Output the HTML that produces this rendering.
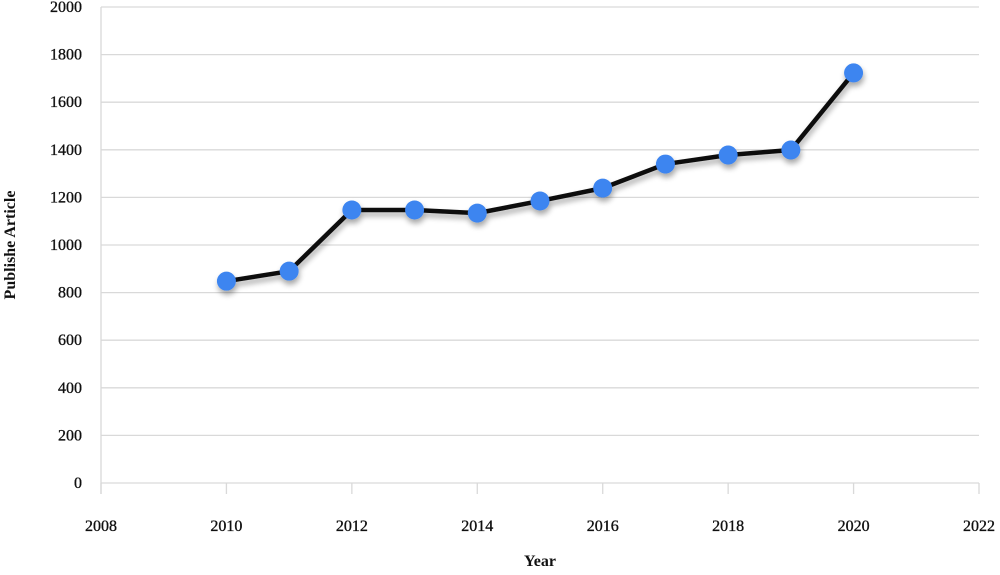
<!DOCTYPE html>
<html><head><meta charset="utf-8"><style>
body{margin:0;background:#fff}
svg text{font-family:"Liberation Serif",serif;font-size:16px;fill:#111}
.tl{stroke:#111;stroke-width:0.35px}
</style></head><body>
<svg id="chart" width="1000" height="570" xmlns="http://www.w3.org/2000/svg">
<defs><filter id="sh" x="-20%" y="-20%" width="140%" height="160%"><feGaussianBlur in="SourceAlpha" stdDeviation="3"/><feOffset dx="1" dy="4"/><feComponentTransfer><feFuncA type="linear" slope="0.35"/></feComponentTransfer><feMerge><feMergeNode/><feMergeNode in="SourceGraphic"/></feMerge></filter></defs>
<g id="grid"></g><g id="axes"></g><g id="series" filter="url(#sh)"></g>
<text x="540" y="566" text-anchor="middle" font-weight="bold" style="font-size:16px">Year</text>
<text transform="translate(15,245) rotate(-90)" text-anchor="middle" font-weight="bold" style="font-size:16px">Publishe Article</text>
</svg>
<script>
const years=[2010,2011,2012,2013,2014,2015,2016,2017,2018,2019,2020];
const articles=[848,890,1147,1147,1134,1185,1239,1340,1378,1399,1723];
const xTicks=[2008,2010,2012,2014,2016,2018,2020,2022];
const yTicks=[0,200,400,600,800,1000,1200,1400,1600,1800,2000];
const NS="http://www.w3.org/2000/svg";
const x=v=>101+(v-2008)*(979-101)/14;
const y=v=>483-v*(483-7)/2000;
function mk(t,a,p){const e=document.createElementNS(NS,t);for(const k in a)e.setAttribute(k,a[k]);p.appendChild(e);return e;}
const grid=document.getElementById('grid'),axes=document.getElementById('axes'),ser=document.getElementById('series');
yTicks.forEach(v=>{
 const l=mk('line',{x1:101,x2:979,y1:y(v),y2:y(v),stroke:'#d9d9d9','stroke-width':1.3},grid);
 
 
 const t=mk('text',{x:82,y:y(v)+5,'text-anchor':'end','class':'tl'},axes);t.textContent=v;
 
 
});
const ax=mk('line',{x1:101,x2:101,y1:7,y2:494,stroke:'#d9d9d9','stroke-width':1.3},axes);


xTicks.forEach(v=>{
 const tk=mk('line',{x1:x(v),x2:x(v),y1:483,y2:494,stroke:'#d9d9d9','stroke-width':1.3},axes);
 
 
 const t=mk('text',{x:x(v),y:531,'text-anchor':'middle','class':'tl'},axes);t.textContent=v;
 
 
});
const pl=mk('polyline',{points:years.map((yr,i)=>x(yr)+','+y(articles[i])).join(' '),fill:'none',stroke:'#111','stroke-width':4.5,'stroke-linejoin':'round'},ser);


years.forEach((yr,i)=>{
 const c=mk('circle',{cx:x(yr),cy:y(articles[i]),r:9.5,fill:'#3d85f0'},ser);
 
 
});
</script>
</body></html>
